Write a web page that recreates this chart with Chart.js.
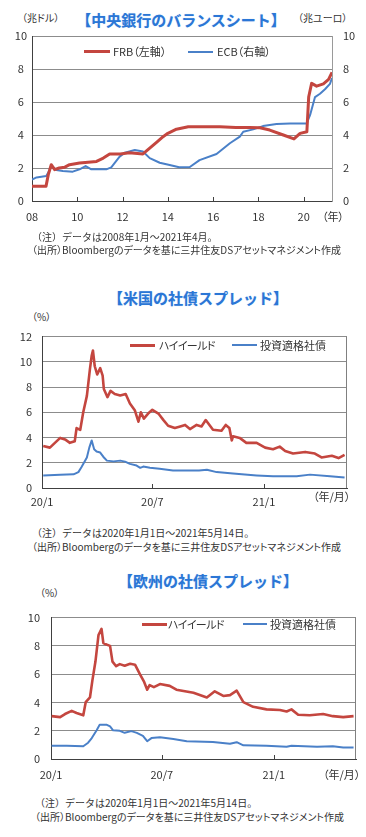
<!DOCTYPE html>
<html lang="ja">
<head>
<meta charset="utf-8">
<title>中央銀行のバランスシートと社債スプレッド</title>
<script src="https://cdn.jsdelivr.net/npm/chart.js@4.4.1/dist/chart.umd.min.js"></script>
<style>
  body { margin: 0; background: #fff; width: 366px; height: 837px; position: relative; overflow: hidden;
         font-family: "Noto Sans CJK JP", sans-serif; color: #333; }
  canvas { position: absolute; left: 0; }
  .t { position: absolute; white-space: nowrap; line-height: 1; }
  .title { font-size: 15px; font-weight: bold; color: #2a76d6; transform: translateX(-50%);
           text-shadow: 0 0 1px #a9c9f0; }
  .unit { font-size: 10px; font-feature-settings: "palt"; }
  .axu { font-size: 11px; font-feature-settings: "palt"; }
  .note { font-size: 10px; }
  .src { font-size: 10px; font-feature-settings: "palt"; }
  .lgt { font-size: 11px; font-feature-settings: "palt"; }
  .sw { position: absolute; }
</style>
</head>
<body>
<div class="t title" style="left:181px; top:12px;">【中央銀行のバランスシート】</div>
<div class="t unit" style="left:22px; top:13px;">（兆ドル）</div>
<div class="t unit" style="left:298px; top:13px;">（兆ユーロ）</div>
<canvas id="bsChart" width="366" height="230" style="top:0;"></canvas>
<div class="t axu" style="left:322px; top:211px;">（年）</div>
<div class="t note" style="left:32px; top:232px;">（注）データは2008年1月～2021年4月。</div>
<div class="t src" style="left:32px; top:245px;">（出所）Bloombergのデータを基に三井住友DSアセットマネジメント作成</div>

<div class="t title" style="left:198px; top:290px;">【米国の社債スプレッド】</div>
<div class="t unit" style="left:32px; top:312px;">（%）</div>
<canvas id="usChart" width="366" height="190" style="top:320px;"></canvas>
<div class="t axu" style="left:313px; top:491px;">（年/月）</div>
<div class="t note" style="left:32px; top:528px;">（注）データは2020年1月1日～2021年5月14日。</div>
<div class="t src" style="left:32px; top:542px;">（出所）Bloombergのデータを基に三井住友DSアセットマネジメント作成</div>

<div class="t title" style="left:208px; top:573px;">【欧州の社債スプレッド】</div>
<div class="t unit" style="left:40px; top:588px;">（%）</div>
<canvas id="euChart" width="366" height="185" style="top:600px;"></canvas>
<div class="t axu" style="left:323px; top:769px;">（年/月）</div>
<div class="t note" style="left:35px; top:798px;">（注）データは2020年1月1日～2021年5月14日。</div>
<div class="t src" style="left:35px; top:812px;">（出所）Bloombergのデータを基に三井住友DSアセットマネジメント作成</div>

<script>
// 中央銀行のバランスシート（FRB: 兆ドル、ECB: 兆ユーロ）、x は年
const bsFrbYears = [2008.0, 2008.62, 2008.72, 2008.85, 2009.0, 2009.2, 2009.45, 2009.66, 2010.1, 2010.85,
  2011.15, 2011.43, 2011.9, 2012.3, 2012.9, 2013.2, 2013.5, 2013.79, 2014.0, 2014.38,
  2014.9, 2015.5, 2016.3, 2017.0, 2017.6, 2018.07, 2018.5, 2019.1, 2019.57, 2019.84,
  2020.14, 2020.22, 2020.35, 2020.57, 2020.87, 2021.1, 2021.25];
const bsFrbValues = [0.9, 0.9, 1.6, 2.2, 1.9, 2.0, 2.05, 2.2, 2.3, 2.4,
  2.6, 2.85, 2.85, 2.93, 2.85, 3.2, 3.55, 3.9, 4.1, 4.35,
  4.5, 4.5, 4.5, 4.46, 4.45, 4.44, 4.3, 4.0, 3.76, 4.1,
  4.2, 6.3, 7.13, 6.96, 7.1, 7.37, 7.8];
const bsEcbYears = [2008.0, 2008.2, 2008.63, 2008.75, 2008.85, 2009.07, 2009.36, 2009.8, 2010.1, 2010.37,
  2010.62, 2011.28, 2011.5, 2011.87, 2012.1, 2012.54, 2012.9, 2013.2, 2013.64, 2014.08,
  2014.5, 2014.97, 2015.4, 2016.15, 2016.74, 2017.18, 2017.33, 2017.77, 2018.2, 2018.8,
  2019.4, 2020.13, 2020.28, 2020.5, 2020.72, 2020.94, 2021.16, 2021.25];
const bsEcbValues = [1.3, 1.43, 1.52, 1.8, 2.15, 1.88, 1.82, 1.78, 1.92, 2.12,
  1.92, 1.92, 2.04, 2.69, 2.93, 3.09, 3.0, 2.6, 2.32, 2.18,
  2.04, 2.06, 2.48, 2.85, 3.5, 3.9, 4.2, 4.34, 4.54, 4.67,
  4.7, 4.7, 5.2, 6.3, 6.5, 6.77, 7.1, 7.45];
const bsYearTicks = [2008, 2010, 2012, 2014, 2016, 2018, 2020];
const bsYearLabels = ["08", "10", "12", "14", "16", "18", "20"];

// 米国の社債スプレッド（%）、x は 2020/1/1 からの日数
const usHyDays = [2, 13, 30, 38, 46, 54, 57, 63, 68, 74,
  79, 82, 84, 87, 91, 96, 100, 102, 108, 113,
  120, 129, 138, 145, 153, 159, 163, 168, 175, 182,
  192, 200, 208, 219, 228, 236, 244, 255, 263, 270,
  282, 296, 303, 309, 313, 315, 326, 337, 354, 368,
  381, 392, 401, 414, 434, 450, 461, 478, 489, 499];
const usHyValues = [3.33, 3.2, 3.97, 3.85, 3.58, 3.7, 4.75, 4.6, 6.0, 7.3,
  9.4, 10.5, 10.9, 9.65, 9.0, 9.5, 8.9, 7.85, 7.2, 7.7,
  7.45, 7.33, 7.45, 6.7, 6.17, 5.26, 6.0, 5.5, 5.9, 6.2,
  5.9, 5.4, 4.93, 4.75, 4.88, 5.0, 4.67, 5.0, 4.88, 5.39,
  4.62, 4.54, 5.0, 4.75, 3.77, 4.1, 3.97, 3.58, 3.58, 3.2,
  3.07, 3.28, 2.94, 2.73, 2.86, 2.73, 2.42, 2.55, 2.37, 2.63];
const usIgDays = [2, 30, 52, 60, 65, 74, 78, 82, 86, 90,
  96, 101, 107, 118, 129, 137, 145, 156, 162, 167,
  178, 194, 216, 239, 259, 272, 288, 315, 354, 381,
  420, 442, 475, 499];
const usIgValues = [1.0, 1.06, 1.08, 1.26, 1.65, 2.42, 3.2, 3.77, 3.07, 2.89,
  2.81, 2.48, 2.17, 2.11, 2.17, 2.09, 1.91, 1.78, 1.6, 1.7,
  1.6, 1.52, 1.39, 1.39, 1.39, 1.45, 1.26, 1.14, 1.0, 0.93,
  0.93, 1.06, 0.93, 0.83];

// 欧州の社債スプレッド（%）
const euHyDays = [1, 15, 23, 34, 42, 53, 57, 64, 68, 73,
  78, 83, 86, 91, 97, 101, 107, 113, 121, 130,
  138, 146, 153, 158, 162, 169, 179, 195, 206, 234,
  256, 269, 283, 294, 305, 316, 332, 354, 376, 387,
  395, 406, 425, 447, 463, 480, 497];
const euHyValues = [3.03, 2.96, 3.18, 3.4, 3.25, 3.09, 4.02, 4.35, 5.56, 6.89,
  8.76, 9.2, 8.2, 8.1, 8.0, 6.89, 6.56, 6.71, 6.6, 6.73,
  6.67, 6.0, 5.45, 4.9, 5.23, 5.08, 5.3, 5.17, 4.9, 4.68,
  4.35, 4.79, 4.46, 4.52, 4.83, 4.02, 3.69, 3.51, 3.46, 3.36,
  3.51, 3.13, 3.09, 3.18, 3.03, 2.96, 3.03];
const euIgDays = [1, 26, 53, 61, 67, 75, 80, 91, 97, 102,
  113, 121, 132, 141, 151, 158, 165, 179, 201, 223,
  266, 294, 305, 316, 354, 387, 395, 437, 463, 480,
  497];
const euIgValues = [0.93, 0.93, 0.9, 1.15, 1.48, 2.03, 2.43, 2.43, 2.3, 2.03,
  1.99, 1.85, 1.97, 1.85, 1.64, 1.26, 1.48, 1.54, 1.41, 1.26,
  1.21, 1.08, 1.19, 0.97, 0.93, 0.86, 0.93, 0.86, 0.9, 0.81,
  0.81];

const monthTickDays = [0, 182, 366];
const monthTickLabels = ["20/1", "20/7", "21/1"];

const FRB_LABEL = "FRB（左軸）";
const ECB_LABEL = "ECB（右軸）";
const HY_LABEL = "ハイイールド";
const IG_LABEL = "投資適格社債";

const RED = "#c4463f";
const BLUE = "#4a80c8";
const GRID = "#8c8c8c";
const AXIS = "#404040";

Chart.defaults.font.family = '"Noto Sans CJK JP", sans-serif';
Chart.defaults.font.size = 11;
Chart.defaults.color = "#333";

function toPoints(xs, ys) {
  return xs.map((x, i) => ({ x, y: ys[i] }));
}

function gridColor(ctx) {
  return ctx.tick && ctx.tick.value === 0 ? "rgba(0,0,0,0)" : GRID;
}

// 目盛りを軸の内側に描く・右枠
const innerTicks = {
  id: "innerTicks",
  afterDatasetsDraw(chart, args, opts) {
    const { ctx, chartArea, scales } = chart;
    ctx.save();
    ctx.lineWidth = 1;
    if (opts.rightFrame) {
      ctx.strokeStyle = "#808080";
      ctx.beginPath();
      ctx.moveTo(chartArea.right - 0.5, chartArea.top);
      ctx.lineTo(chartArea.right - 0.5, chartArea.bottom);
      ctx.stroke();
    }
    ctx.strokeStyle = AXIS;
    scales.x.ticks.forEach((t, i) => {
      if (i === 0) return;
      const px = Math.round(scales.x.getPixelForValue(t.value)) + 0.5;
      ctx.beginPath();
      ctx.moveTo(px, chartArea.bottom);
      ctx.lineTo(px, chartArea.bottom - 4);
      ctx.stroke();
    });
    ctx.restore();
  },
};

const baseOptions = {
  responsive: false,
  animation: false,
  devicePixelRatio: 1,
  elements: { point: { radius: 0 }, line: { tension: 0, borderJoinStyle: "round" } },
  plugins: { legend: { display: false }, tooltip: { enabled: false } },
};

function legendItem(x, y, color, thick, width, label, textX, spacing) {
  const sw = document.createElement("div");
  sw.className = "sw";
  sw.style.cssText = `left:${x}px;top:${y - thick / 2}px;width:${width}px;height:${thick}px;background:${color};`;
  document.body.appendChild(sw);
  const tx = document.createElement("div");
  tx.className = "t lgt";
  tx.textContent = label;
  tx.style.cssText = `left:${textX}px;top:${y - 5.5}px;letter-spacing:${spacing || 0}px;`;
  document.body.appendChild(tx);
}

new Chart(document.getElementById("bsChart"), {
  type: "line",
  data: {
    datasets: [
      { label: FRB_LABEL, data: toPoints(bsFrbYears, bsFrbValues), borderColor: RED, borderWidth: 3, yAxisID: "y" },
      { label: ECB_LABEL, data: toPoints(bsEcbYears, bsEcbValues), borderColor: BLUE, borderWidth: 2, yAxisID: "y2" },
    ],
  },
  options: {
    ...baseOptions,
    layout: { padding: { top: 36, left: 0, right: 0, bottom: 0 } },
    scales: {
      x: {
        type: "linear", min: 2008, max: 2021.25,
        afterBuildTicks: (a) => { a.ticks = bsYearTicks.map((v) => ({ value: v })); },
        ticks: { callback: (v, i) => bsYearLabels[i], padding: 9, maxRotation: 0 },
        grid: { display: false, drawTicks: false },
        border: { color: AXIS },
        afterFit: (s) => { s.height = 29; },
      },
      y: {
        min: 0, max: 10,
        ticks: { stepSize: 2, crossAlign: "center", padding: 5 },
        grid: { color: gridColor, drawTicks: false },
        border: { color: AXIS },
        afterFit: (s) => { s.width = 32; },
      },
      y2: {
        position: "right", min: 0, max: 10,
        ticks: { stepSize: 2, padding: 11 },
        grid: { display: false, drawTicks: false },
        border: { color: "#9a9a9a" },
        afterFit: (s) => { s.width = 34; },
      },
    },
    plugins: { ...baseOptions.plugins, innerTicks: { rightFrame: false } },
  },
  plugins: [innerTicks],
});
legendItem(84, 51.5, RED, 3, 26, FRB_LABEL, 113);
legendItem(188, 51.5, BLUE, 2, 25, ECB_LABEL, 217);

function spreadChart(id, hy, ig, cfg) {
  return new Chart(document.getElementById(id), {
    type: "line",
    data: {
      datasets: [
        { label: HY_LABEL, data: hy, borderColor: RED, borderWidth: 2.6 },
        { label: IG_LABEL, data: ig, borderColor: BLUE, borderWidth: 2 },
      ],
    },
    options: {
      ...baseOptions,
      layout: { padding: { top: cfg.top, left: 0, right: cfg.right, bottom: 0 } },
      scales: {
        x: {
          type: "linear", min: 0, max: cfg.xMax,
          afterBuildTicks: (a) => { a.ticks = monthTickDays.map((v) => ({ value: v })); },
          ticks: { callback: (v, i) => monthTickLabels[i], padding: cfg.xPad, maxRotation: 0 },
          grid: { display: false, drawTicks: false },
          border: { color: AXIS },
          afterFit: (s) => { s.height = cfg.xHeight; },
        },
        y: {
          min: 0, max: cfg.yMax,
          ticks: { stepSize: 2, padding: cfg.yPad },
          grid: { color: gridColor, drawTicks: false },
          border: { color: AXIS },
          afterFit: (s) => { s.width = cfg.yWidth; },
        },
      },
      plugins: { ...baseOptions.plugins, innerTicks: { rightFrame: true } },
    },
    plugins: [innerTicks],
  });
}

spreadChart("usChart", toPoints(usHyDays, usHyValues), toPoints(usIgDays, usIgValues),
  { top: 13, right: 19, xMax: 503, xPad: 7, xHeight: 22, yMax: 12, yPad: 10, yWidth: 42 });
legendItem(130, 345, RED, 3, 25, HY_LABEL, 159, -0.6);
legendItem(232, 345, BLUE, 2, 25, IG_LABEL, 260);

spreadChart("euChart", toPoints(euHyDays, euHyValues), toPoints(euIgDays, euIgValues),
  { top: 8, right: 10, xMax: 501, xPad: 9, xHeight: 26, yMax: 10, yPad: 11, yWidth: 51 });
legendItem(142, 624, RED, 3, 25, HY_LABEL, 168, -0.6);
legendItem(243, 624, BLUE, 2, 24, IG_LABEL, 270);
</script>
</body>
</html>
